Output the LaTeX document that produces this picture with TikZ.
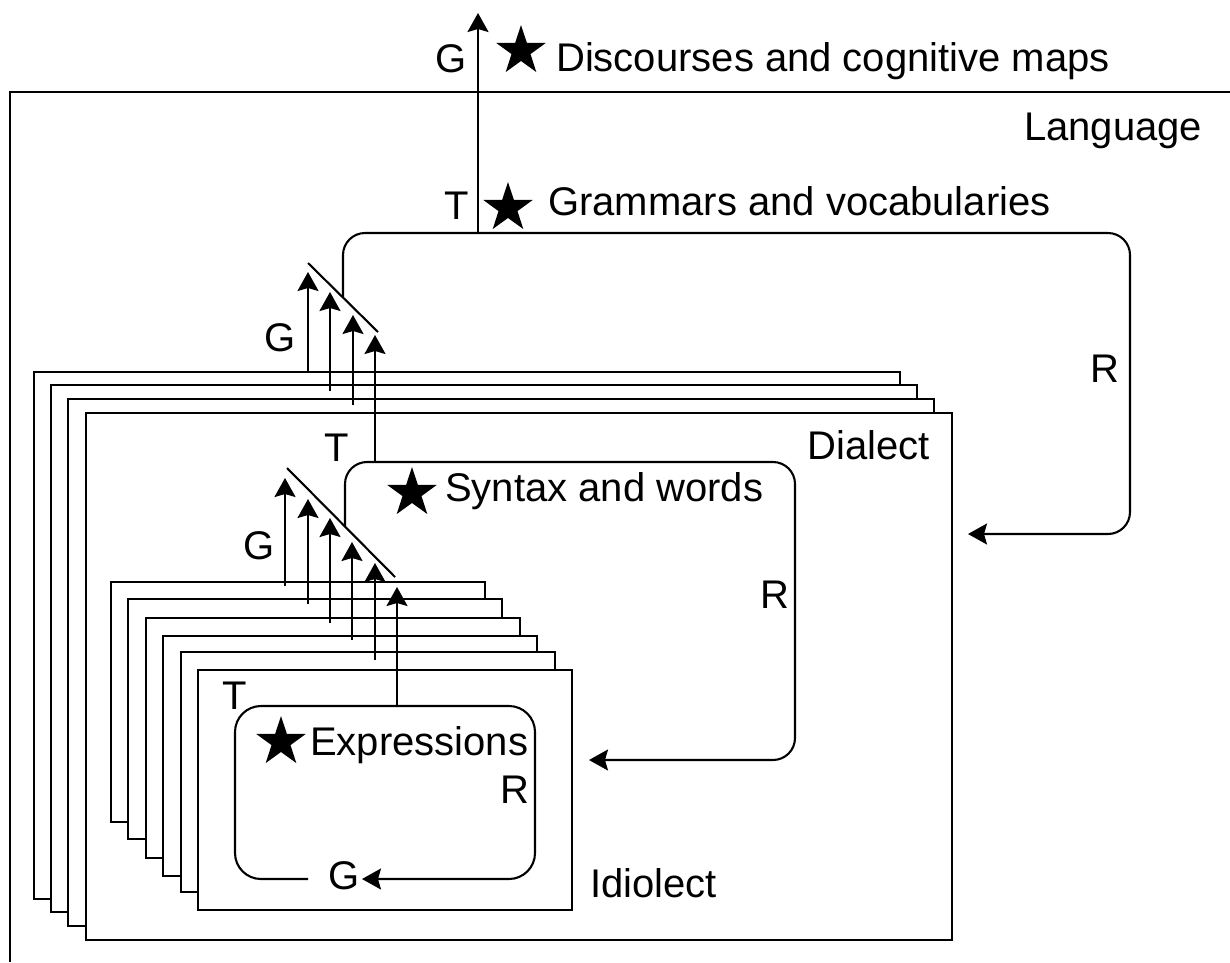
\documentclass[tikz,border=0pt]{standalone}
\usepackage{fontspec}
\setmainfont{Liberation Sans}
\usetikzlibrary{shapes.geometric,arrows.meta}
\begin{document}
\begin{tikzpicture}[x=1pt,y=-1pt,
  ln/.style={line width=2.1pt},
  arr/.style={ln,-{Stealth[length=19pt,width=21pt,inset=3pt]}},
  box/.style={draw,ln,fill=white,rectangle,anchor=north west,inner sep=0pt,outer sep=0pt},
  lbl/.style={inner sep=0pt,anchor=base west,font=\fontsize{40}{48}\selectfont},
  lble/.style={lbl,anchor=base east},
  starnode/.style={star,star points=5,star point ratio=2.6,fill=black,draw=none,inner sep=0pt,minimum size=52pt}]
\useasboundingbox (0,0) rectangle (1230,962);
% Language frame
\coordinate (LTL) at (10,92);
\coordinate (LTR) at (1230,92);
\coordinate (LBL) at (10,962);
\draw[ln] (LTR) -- (LTL) -- (LBL);
% Grammar loop
\coordinate (g0) at (343,298);
\coordinate (g1) at (343,233);
\coordinate (g2) at (1130,233);
\coordinate (g3) at (1130,534);
\coordinate (g4) at (968,534);
\draw[arr,rounded corners=22pt] (g0) -- (g1) -- (g2) -- (g3) -- (g4);
\coordinate (topS) at (478,233);
\coordinate (topE) at (478,13);
\draw[arr] (topS) -- (topE);
% Dialect boxes
\foreach \x/\y [count=\i] in {34/372,51/385,68/399,86/413}
  \node[box,minimum width=866pt,minimum height=527pt] (D\i) at (\x,\y) {};
% Syntax loop
\coordinate (s0) at (345,526);
\coordinate (s1) at (345,462);
\coordinate (s2) at (795,462);
\coordinate (s3) at (795,760);
\coordinate (s4) at (589,760);
\draw[arr,rounded corners=22pt] (s0) -- (s1) -- (s2) -- (s3) -- (s4);
% Idiolect boxes
\foreach \x/\y [count=\i] in {111/582,128/599,146/618,163/636,181/652,198/670}
  \node[box,minimum width=374pt,minimum height=240pt] (I\i) at (\x,\y) {};
% Expressions loop
\coordinate (e0) at (308,879);
\coordinate (e1) at (235,879);
\coordinate (e2) at (235,706);
\coordinate (e3) at (535,706);
\coordinate (e4) at (535,879);
\coordinate (e5) at (362,879);
\draw[arr,rounded corners=26pt] (e0) -- (e1) -- (e2) -- (e3) -- (e4) -- (e5);
% upper arrows
\foreach \x/\a/\b [count=\i] in {308/373/272,330/391/292,353/405/315,375/462/335}{
  \coordinate (ua\i) at (\x,\a); \coordinate (ub\i) at (\x,\b);
  \draw[arr] (ua\i) -- (ub\i);}
\coordinate (us0) at (308,263); \coordinate (us1) at (378,332);
\draw[ln] (us0) -- (us1);
% lower arrows
\foreach \x/\a/\b [count=\i] in {285/586/478,308/604/499,330/623/518,352/640/542,375/660/563,397/706/587}{
  \coordinate (la\i) at (\x,\a); \coordinate (lb\i) at (\x,\b);
  \draw[arr] (la\i) -- (lb\i);}
\coordinate (ls0) at (287,468); \coordinate (ls1) at (395,577);
\draw[ln] (ls0) -- (ls1);
% stars
\node[starnode] (st1) at (521,51) {};
\node[starnode] (st2) at (508,208) {};
\node[starnode] (st3) at (412,493) {};
\node[starnode] (st4) at (281,742) {};
% labels
\node[lble] (gTop) at (467,72) {G};
\node[lbl] (disc) at (556,71) {Discourses and cognitive maps};
\node[lbl] (lang) at (1024,140) {Language};
\node[lble] (tTop) at (469,219) {T};
\node[lbl] (gram) at (548,215) {Grammars and vocabularies};
\node[lbl] (rBig) at (1090,382) {R};
\node[lbl] (gUp) at (264,351) {G};
\node[lbl] (tUp) at (324,461) {T};
\node[lble] (dial) at (930,459) {Dialect};
\node[lbl] (syn) at (445,501) {Syntax and words};
\node[lbl] (rSyn) at (760,608) {R};
\node[lbl] (gLow) at (243,559) {G};
\node[lbl] (tLow) at (222,709) {T};
\node[lbl] (expr) at (310,755) {Expressions};
\node[lbl] (rExp) at (500,803) {R};
\node[lbl] (gExp) at (328,889) {G};
\node[lbl] (idio) at (590,897) {Idiolect};
\end{tikzpicture}
\end{document}
